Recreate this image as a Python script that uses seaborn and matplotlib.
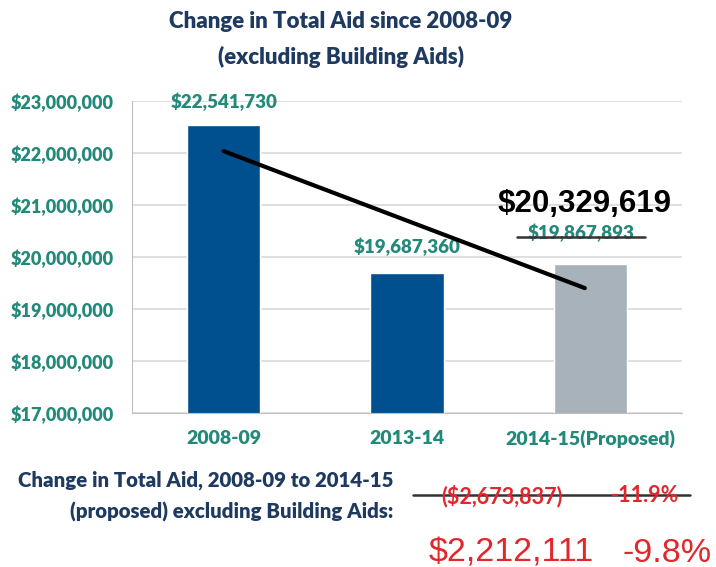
import numpy as np
import pandas as pd
import matplotlib
matplotlib.use("Agg")
import matplotlib.pyplot as plt
import seaborn as sns

categories = ["2008-09", "2013-14", "2014-15(Proposed)"]
values = [22541730, 19687360, 19867893]
bar_labels = ["$22,541,730", "$19,687,360", "$19,867,893"]
revised_label = "$20,329,619"
ytick_vals = [17000000, 18000000, 19000000, 20000000, 21000000, 22000000, 23000000]
old_change = ["($2,673,837)", "-11.9%"]
new_change = ["$2,212,111", "-9.8%"]

sns.set_style("white")
plt.rcParams['font.family'] = ['Lato', 'DejaVu Sans']

TEAL = "#23897A"
NAVY = "#1F3A60"
BLUE = "#00508F"
GREY = "#A7B2BB"
RED = "#E3262B"

df = pd.DataFrame({"cat": categories, "val": values})
fig = plt.figure(figsize=(7.16, 5.67), dpi=100)
ax = fig.add_axes([132/716, 1-413/567, (682-132)/716, (413-101)/567])
sns.barplot(data=df, x="cat", y="val", hue="cat", palette=[BLUE, BLUE, GREY],
            width=0.4, legend=False, ax=ax, saturation=1)
ax.set_ylim(17000000, 23000000)
ax.set_xlim(-0.5, 2.5)
ax.set_yticks(ytick_vals)
ax.set_yticklabels(["${:,}".format(v) for v in ytick_vals], color=TEAL,
                   fontsize=13, fontweight="heavy")
ax.set_xticks([0, 1, 2])
ax.set_xticklabels(categories, color=TEAL, fontsize=14, fontweight="heavy")
ax.tick_params(axis="x", length=0, pad=12)
ax.tick_params(axis="y", length=0, pad=13)
ax.set_xticks([0.5, 1.5, 2.5], minor=True)
ax.tick_params(axis="x", which="minor", length=5, color="#BFBFBF")
ax.set_xlabel("")
ax.set_ylabel("")
ax.yaxis.grid(True, color="#D9D9D9", linewidth=1.2)
ax.set_axisbelow(True)
for s in ["top", "right"]:
    ax.spines[s].set_visible(False)
ax.spines["left"].set_color("#BFBFBF")
ax.spines["bottom"].set_color("#BFBFBF")

# linear trend line
xs = np.arange(len(values))
slope, icpt = np.polyfit(xs, values, 1)
ax.plot([xs[0], xs[-1] - 0.03], [icpt, icpt + slope * (xs[-1] - 0.03)],
        color="black", lw=3, zorder=5)

# bar labels
ax.text(0, values[0] + 440000, bar_labels[0], ha="center", va="center",
        color=TEAL, fontsize=13.5, fontweight="heavy")
ax.text(1, values[1] + 500000, bar_labels[1], ha="center", va="center",
        color=TEAL, fontsize=13.5, fontweight="heavy")
ax.text(1.95, values[2] + 600000, bar_labels[2], ha="center", va="center",
        color=TEAL, fontsize=13.5, fontweight="heavy")
ax.plot([1.6, 2.3], [values[2] + 520000] * 2, color="#333333", lw=1.8, zorder=6)
ax.text(1.97, values[2] + 1150000, revised_label, ha="center", va="center",
        color="black", fontsize=22.5, fontweight="bold", family=["Liberation Sans"])

# title
fig.text(341/716, 1-22/567, "Change in Total Aid since 2008-09", ha="center", va="center",
         color=NAVY, fontsize=16, fontweight="heavy")
fig.text(341/716, 1-57/567, "(excluding Building Aids)", ha="center", va="center",
         color=NAVY, fontsize=16, fontweight="heavy")

# bottom text
fig.text(393/716, 1-480/567, "Change in Total Aid, 2008-09 to 2014-15", ha="right", va="center",
         color=NAVY, fontsize=14.7, fontweight="heavy")
fig.text(393/716, 1-512/567, "(proposed) excluding Building Aids:", ha="right", va="center",
         color=NAVY, fontsize=14.7, fontweight="heavy")
fig.text(502/716, 1-496/567, old_change[0], ha="center", va="center",
         color=RED, fontsize=15.5, fontweight="bold")
fig.text(645/716, 1-496/567, old_change[1], ha="center", va="center",
         color=RED, fontsize=15.5, fontweight="bold")
fig.add_artist(plt.Line2D([413/716, 690/716], [1-495/567, 1-495/567], color="#333333", lw=1.8))
fig.text(511/716, 1-553/567, new_change[0], ha="center", va="center",
         color=RED, fontsize=24.5, family=["Liberation Sans"])
fig.text(667/716, 1-553/567, new_change[1], ha="center", va="center",
         color=RED, fontsize=24.5, family=["Liberation Sans"])

fig.savefig("out.png", dpi=100)
